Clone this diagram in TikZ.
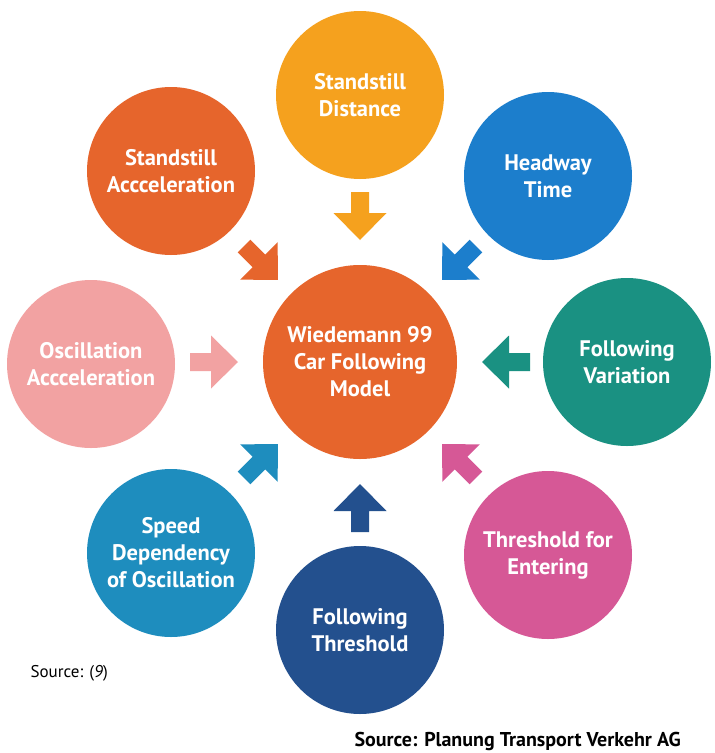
\documentclass[tikz,border=0pt]{standalone}
\usepackage{fontspec}
\setmainfont{PT Sans}
\definecolor{cYellow}{HTML}{F5A11E}
\definecolor{cOrange}{HTML}{E6652C}
\definecolor{cBlue}{HTML}{1C7ECC}
\definecolor{cTeal}{HTML}{1A9182}
\definecolor{cLpink}{HTML}{F2A2A2}
\definecolor{cPink}{HTML}{D65896}
\definecolor{cDblue}{HTML}{23508E}
\definecolor{cSpeed}{HTML}{1E8DBE}
\begin{document}
\begin{tikzpicture}[x=1pt,y=-1pt,
  bubble/.style={circle,minimum size=168pt,inner sep=0pt,text=white,
    font=\fontsize{22.5}{27}\selectfont\bfseries,align=center},
  hub/.style={bubble,minimum size=194pt},
  pointer/.style={fill=#1,draw=none}]
\useasboundingbox (0,0) rectangle (715,753);
\fill[white] (0,0) rectangle (715,753);
\coordinate (C) at (360,362);
\node[hub,fill=cOrange] (center) at (C) {Wiedemann 99\\Car Following\\Model};
\node[bubble,fill=cYellow] (n) at (360,95) {Standstill\\Distance};
\node[bubble,fill=cOrange] (nw) at (171,171) {Standstill\\Accceleration};
\node[bubble,fill=cBlue] (ne) at (548,176) {Headway\\Time};
\node[bubble,fill=cLpink] (w) at (91,364) {Oscillation\\Accceleration};
\node[bubble,fill=cTeal] (e) at (627,362) {Following\\Variation};
\node[bubble,fill=cSpeed] (sw) at (171,553) {Speed\\Dependency\\of Oscillation};
\node[bubble,fill=cPink] (se) at (548,555) {Threshold for\\Entering};
\node[bubble,fill=cDblue] (s) at (360,630) {Following\\Threshold};
% block arrows pointing to the centre
\foreach \ang/\d/\col in {90/122/cYellow, 135/116/cOrange, 45/116/cBlue,
   180/122/cLpink, 0/122/cTeal, 225/116/cSpeed, 315/116/cPink, 270/122/cDblue}{
  \begin{scope}[shift={(C)},rotate=\ang]
    \fill[pointer=\col] (\d,0) -- (\d+27,26.5) -- (\d+27,9) -- (\d+48,9)
      -- (\d+48,-9) -- (\d+27,-9) -- (\d+27,-26.5) -- cycle;
  \end{scope}
}
\node[anchor=west,font=\fontsize{17}{20}\selectfont] (src1) at (27,673) {Source: (\textit{9})};
\node[anchor=west,font=\fontsize{20}{24}\selectfont\bfseries] (src2) at (351,741) {Source: Planung Transport Verkehr AG};
\end{tikzpicture}
\end{document}
